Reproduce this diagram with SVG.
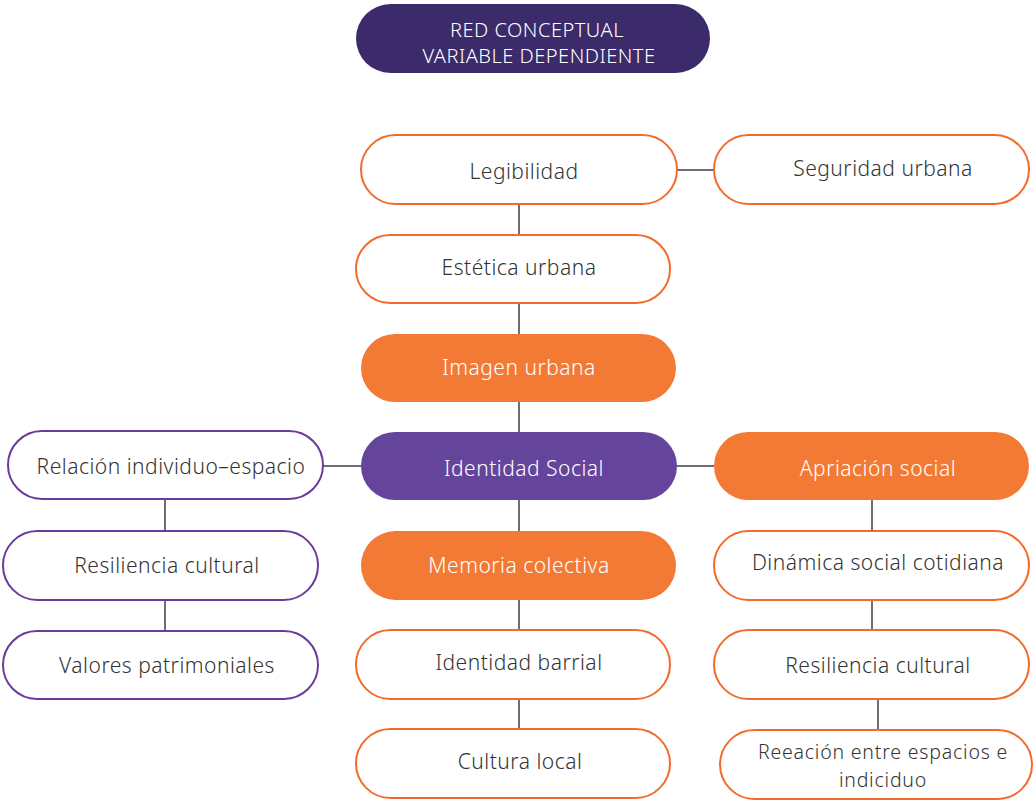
<svg xmlns="http://www.w3.org/2000/svg" width="1034" height="801" viewBox="0 0 1034 801">
<style>
text{font-family:"Noto Sans",Lato,sans-serif;font-size:21px;text-anchor:middle;fill:#333333;font-weight:300;letter-spacing:0.5px}
.w{fill:#ffffff}
.t{font-size:20px;letter-spacing:0.5px}
.s{font-size:19.5px;letter-spacing:0.8px}
.o{fill:#ffffff;stroke:#f26b2d;stroke-width:2}
.p{fill:#ffffff;stroke:#6b3a9a;stroke-width:2}
.of{fill:#f37a35}
.pf{fill:#65449b}
.c line{stroke:#6f6f6f;stroke-width:2}
</style>
<rect width="1034" height="801" fill="#ffffff"/>
<g class="c">
<line x1="677" y1="170" x2="714" y2="170"/>
<line x1="519" y1="204" x2="519" y2="235"/>
<line x1="519" y1="303" x2="519" y2="334"/>
<line x1="519" y1="402" x2="519" y2="432"/>
<line x1="519" y1="500" x2="519" y2="531"/>
<line x1="519" y1="600" x2="519" y2="630"/>
<line x1="519" y1="699" x2="519" y2="729"/>
<line x1="323" y1="466" x2="361" y2="466"/>
<line x1="677" y1="466" x2="714" y2="466"/>
<line x1="165" y1="499" x2="165" y2="531"/>
<line x1="165" y1="600" x2="165" y2="631"/>
<line x1="872" y1="500" x2="872" y2="531"/>
<line x1="872" y1="600" x2="872" y2="630"/>
<line x1="878" y1="699" x2="878" y2="730"/>
</g>
<g id="title"><rect x="356" y="4" width="354" height="69" rx="34.5" fill="#3b2b6b"/><text class="w t" x="537" y="37">RED CONCEPTUAL</text><text class="w t" x="539" y="63">VARIABLE DEPENDIENTE</text></g>
<g id="legibilidad"><rect class="o" x="361" y="135" width="316" height="69" rx="34.5"/><text x="524" y="179">Legibilidad</text></g>
<g id="seguridad"><rect class="o" x="714" y="135" width="315" height="69" rx="34.5"/><text x="883" y="176">Seguridad urbana</text></g>
<g id="estetica"><rect class="o" x="356" y="235" width="314" height="68" rx="34"/><text x="519" y="275">Estética urbana</text></g>
<g id="imagen"><rect class="of" x="361" y="334" width="315" height="68" rx="34"/><text class="w" x="519" y="375">Imagen urbana</text></g>
<g id="identidad-social"><rect class="pf" x="361" y="432" width="316" height="68" rx="34"/><text class="w" x="524" y="476">Identidad Social</text></g>
<g id="apriacion"><rect class="of" x="714" y="432" width="315" height="68" rx="34"/><text class="w" x="878" y="476">Apriación social</text></g>
<g id="relacion"><rect class="p" x="8" y="431" width="315" height="68" rx="34"/><text x="171" y="474">Relación individuo–espacio</text></g>
<g id="resiliencia-izq"><rect class="p" x="3" y="531" width="315" height="69" rx="34.5"/><text x="167" y="573">Resiliencia cultural</text></g>
<g id="valores"><rect class="p" x="3" y="631" width="315" height="68" rx="34"/><text x="167" y="673">Valores patrimoniales</text></g>
<g id="memoria"><rect class="of" x="361" y="531" width="315" height="69" rx="34.5"/><text class="w" x="519" y="573">Memoria colectiva</text></g>
<g id="identidad-barrial"><rect class="o" x="356" y="630" width="314" height="69" rx="34.5"/><text x="519" y="670">Identidad barrial</text></g>
<g id="cultura"><rect class="o" x="356" y="729" width="314" height="69" rx="34.5"/><text x="520" y="769">Cultura local</text></g>
<g id="dinamica"><rect class="o" x="714" y="531" width="315" height="69" rx="34.5"/><text x="878" y="570">Dinámica social cotidiana</text></g>
<g id="resiliencia-der"><rect class="o" x="714" y="630" width="315" height="69" rx="34.5"/><text x="878" y="673">Resiliencia cultural</text></g>
<g id="reeacion"><rect class="o" x="720" y="730" width="312" height="69" rx="34.5"/><text class="s" x="883" y="759">Reeación entre espacios e</text><text class="s" x="883" y="787">indiciduo</text></g>
</svg>
